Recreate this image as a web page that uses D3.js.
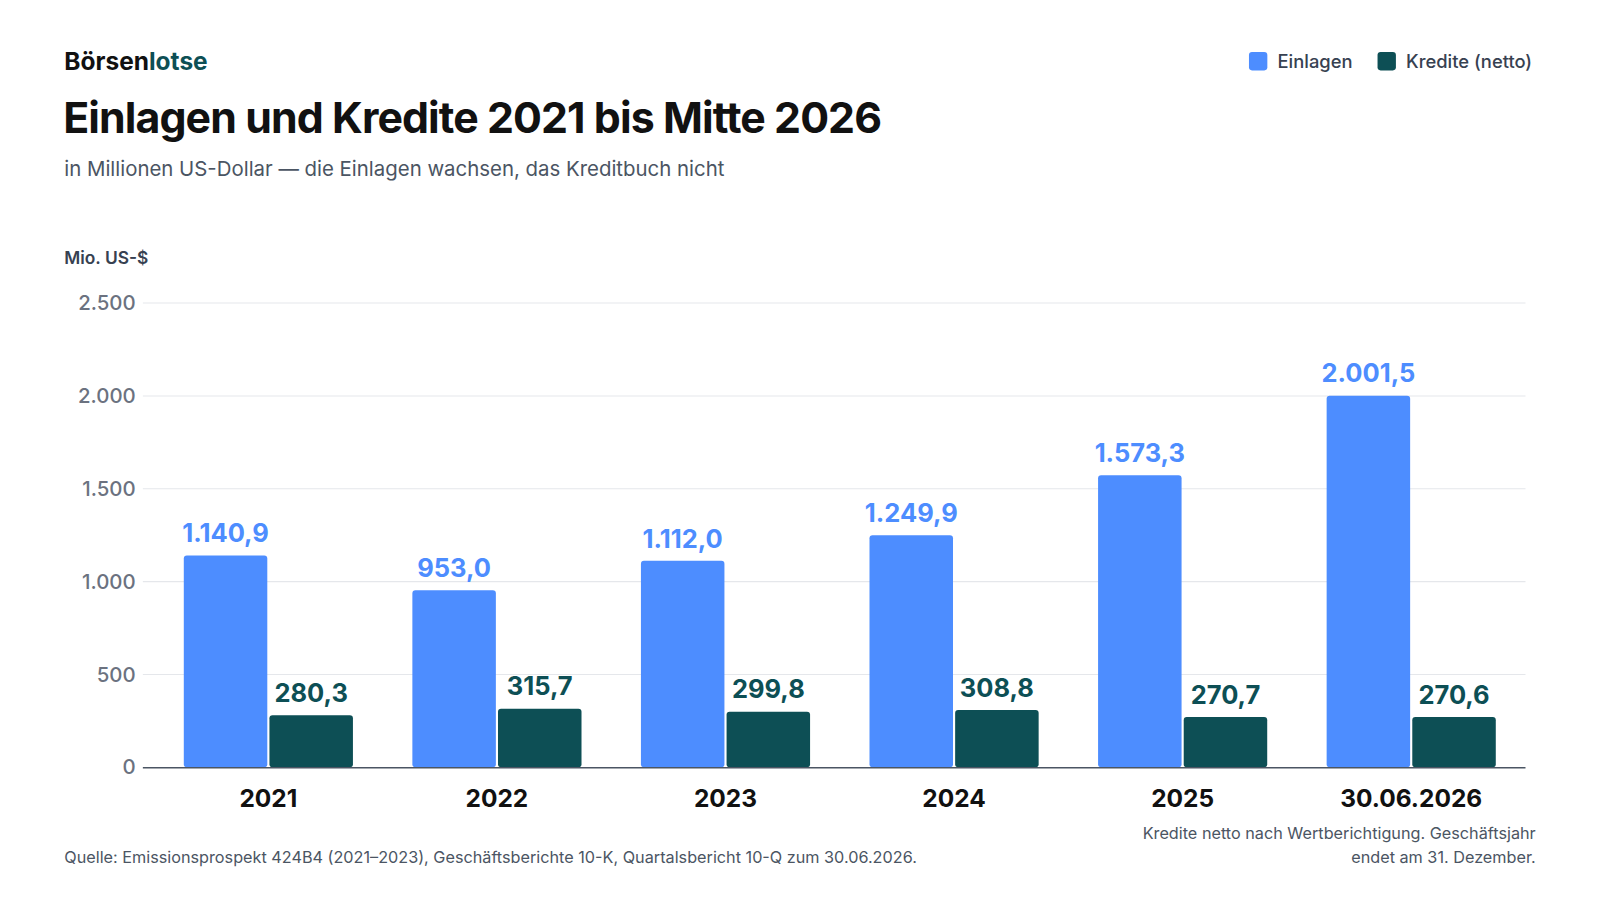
<!DOCTYPE html>
<html><head><meta charset="utf-8">
<script src="https://cdn.jsdelivr.net/npm/d3@7/dist/d3.min.js"></script>
<style>body{margin:0;background:#fff;font-family:Inter,sans-serif}</style>
</head><body><svg id="c" width="1600" height="900"></svg>
<script>
const categories=["2021","2022","2023","2024","2025","30.06.2026"];
const einlagen=[1140.9,953.0,1112.0,1249.9,1573.3,2001.5];
const kredite=[280.3,315.7,299.8,308.8,270.7,270.6];
const yTicks=[0,500,1000,1500,2000,2500];
const series=[{name:"Einlagen",values:einlagen,color:"#4d8dff"},{name:"Kredite (netto)",values:kredite,color:"#0d4f55"}];
const fmt=v=>{const s=v.toFixed(1).split(".");return s[0].replace(/\B(?=(\d{3})+(?!\d))/g,".")+","+s[1];};
const fmtT=v=>String(v).replace(/\B(?=(\d{3})+(?!\d))/g,".");
const svg=d3.select("#c").append("g").attr("transform","scale(1.0204)");
const x=d3.scaleBand().domain(categories).range([151,1495]).paddingInner(0.26).paddingOuter(0.13);
const x1=d3.scaleBand().domain(series.map(s=>s.name)).range([0,x.bandwidth()]).paddingInner(0.025);
const y=d3.scaleLinear().domain([0,2500]).range([752,297]);
svg.append("g").selectAll("line").data(yTicks.slice(1)).join("line").attr("x1",140).attr("x2",1495).attr("y1",d=>y(d)).attr("y2",d=>y(d)).attr("stroke","#e5e7eb");
svg.append("g").selectAll("text").data(yTicks).join("text").attr("x",133).attr("y",d=>y(d)+7).attr("text-anchor","end").attr("font-size",20).attr("font-weight",500).attr("fill","#6b7280").text(fmtT);
series.forEach(s=>{
 const g=svg.append("g");
 g.selectAll("rect").data(categories).join("rect").attr("x",(c)=>x(c)+x1(s.name)).attr("width",x1.bandwidth()).attr("y",(c,i)=>y(s.values[i])).attr("height",(c,i)=>y(0)-y(s.values[i])).attr("rx",3).attr("fill",s.color);
 g.selectAll("text").data(categories).join("text").attr("x",c=>x(c)+x1(s.name)+x1.bandwidth()/2).attr("y",(c,i)=>y(s.values[i])-13).attr("text-anchor","middle").attr("font-size",25).attr("font-weight",700).attr("fill",s.color).text((c,i)=>fmt(s.values[i]));
});
svg.append("line").attr("x1",140).attr("x2",1495).attr("y1",752.5).attr("y2",752.5).attr("stroke","#4b5563").attr("stroke-width",1.5);
svg.append("g").selectAll("text").data(categories).join("text").attr("x",c=>x(c)+x.bandwidth()/2).attr("y",791).attr("text-anchor","middle").attr("font-size",24).attr("font-weight",700).attr("fill","#111").text(d=>d);
const t=svg.append("text").attr("x",63).attr("y",69).attr("font-size",24).attr("font-weight",700).attr("letter-spacing",0);
t.append("tspan").attr("fill","#111").text("Börsen");t.append("tspan").attr("fill","#0d4f55").text("lotse");
svg.append("text").attr("x",62).attr("y",130).attr("font-size",42).attr("font-weight",700).attr("letter-spacing",-0.9).attr("fill","#111").text("Einlagen und Kredite 2021 bis Mitte 2026");
svg.append("text").attr("x",63).attr("y",172).attr("font-size",20).attr("fill","#4b5563").text("in Millionen US-Dollar — die Einlagen wachsen, das Kreditbuch nicht");
svg.append("text").attr("x",63).attr("y",259).attr("font-size",17).attr("font-weight",600).attr("fill","#374151").text("Mio. US-$");
const lg=[{name:"Kredite (netto)",color:"#0d4f55",x:1350},{name:"Einlagen",color:"#4d8dff",x:1224}];
lg.forEach(l=>{svg.append("rect").attr("x",l.x).attr("y",51).attr("width",18).attr("height",18).attr("rx",3).attr("fill",l.color);
 svg.append("text").attr("x",l.x+28).attr("y",67).attr("font-size",18).attr("font-weight",500).attr("fill","#374151").text(l.name);});
svg.append("text").attr("x",63).attr("y",846).attr("font-size",15.9).attr("fill","#4b5563").text("Quelle: Emissionsprospekt 424B4 (2021–2023), Geschäftsberichte 10-K, Quartalsbericht 10-Q zum 30.06.2026.");
svg.append("text").attr("x",1505).attr("y",822).attr("text-anchor","end").attr("font-size",15.9).attr("fill","#4b5563").text("Kredite netto nach Wertberichtigung. Geschäftsjahr");
svg.append("text").attr("x",1505).attr("y",846).attr("text-anchor","end").attr("font-size",15.9).attr("fill","#4b5563").text("endet am 31. Dezember.");
</script></body></html>
